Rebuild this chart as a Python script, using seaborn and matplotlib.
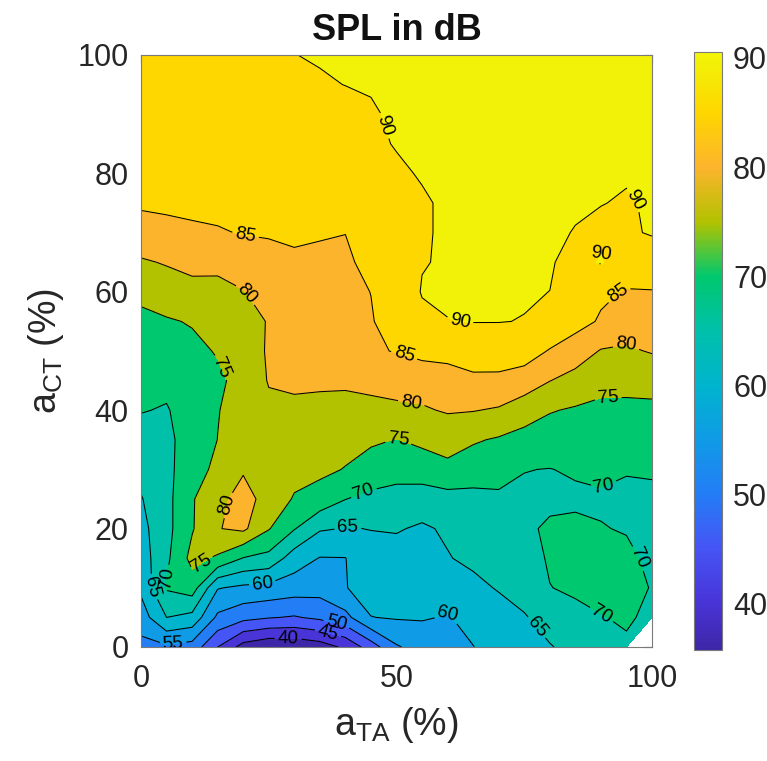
import numpy as np
import matplotlib
matplotlib.use("Agg")
import matplotlib.pyplot as plt
import seaborn as sns
from matplotlib.colors import LinearSegmentedColormap, Normalize
from matplotlib.cm import ScalarMappable

nan = np.nan
# grid axes (percent activation)
a_TA = list(range(0, 101, 5))
a_CT = list(range(0, 101, 5))

# SPL values (dB), one row per a_CT value, columns follow a_TA
spl_ct000 = [53.5, 54.2, 53.0, 45.0, 38.0, 35.8, 36.0, 37.5, 41.0, 47.5, 54.5, 57.0, 58.5, 59.9, 62.0, 63.5, 64.7, 66.5, 68.0, 69.3, nan]
spl_ct005 = [57.5, 65.0, 63.5, 54.0, 51.5, 50.3, 49.6, 51.0, 53.5, 59.9, 60.4, 60.4, 59.7, 61.5, 63.3, 64.6, 67.0, 68.8, 69.8, 70.6, 69.0]
spl_ct010 = [61.0, 70.5, 72.5, 60.3, 59.0, 58.5, 57.5, 57.0, 59.8, 62.0, 62.5, 62.5, 62.5, 64.0, 65.3, 67.0, 69.9, 70.7, 71.5, 71.3, 69.8]
spl_ct015 = [62.5, 69.0, 76.5, 74.3, 69.8, 68.5, 62.5, 59.8, 59.9, 63.5, 63.5, 64.0, 64.8, 65.8, 66.5, 68.0, 70.5, 72.0, 72.0, 71.0, 69.0]
spl_ct020 = [63.5, 68.5, 74.6, 79.8, 81.0, 75.3, 70.3, 65.5, 64.8, 65.1, 65.3, 64.5, 65.5, 67.5, 68.0, 69.4, 70.5, 71.0, 70.2, 69.7, 68.5]
spl_ct025 = [64.7, 68.5, 74.6, 78.5, 82.0, 78.0, 74.6, 73.1, 70.1, 68.5, 68.2, 67.0, 68.0, 68.5, 69.2, 69.3, 69.3, 69.2, 69.4, 69.0, 68.5]
spl_ct030 = [66.5, 69.0, 72.3, 76.5, 79.5, 77.5, 76.5, 76.0, 74.8, 73.5, 71.8, 73.0, 74.2, 72.5, 71.7, 70.1, 69.9, 70.5, 71.0, 70.3, 70.8]
spl_ct035 = [68.3, 69.0, 72.0, 75.05, 77.5, 77.5, 77.0, 77.0, 76.5, 75.5, 74.9, 75.8, 76.3, 75.5, 74.5, 73.5, 72.7, 72.3, 72.5, 72.5, 72.0]
spl_ct040 = [70.2, 69.7, 72.0, 74.8, 77.0, 79.0, 78.5, 78.0, 78.0, 78.5, 79.0, 79.4, 80.5, 80.2, 79.5, 77.0, 75.3, 74.5, 74.3, 74.4, 74.4]
spl_ct045 = [71.6, 71.0, 73.2, 74.2, 76.5, 80.3, 81.3, 81.2, 81.0, 81.5, 82.0, 82.5, 83.0, 84.0, 84.0, 83.0, 80.1, 78.3, 76.0, 75.8, 76.0]
spl_ct050 = [72.8, 73.8, 74.0, 75.3, 77.5, 80.5, 82.5, 83.5, 84.0, 84.5, 85.2, 86.2, 86.5, 87.5, 87.4, 87.0, 84.7, 82.5, 79.7, 79.2, 80.4]
spl_ct055 = [74.0, 74.6, 75.3, 77.0, 78.7, 80.2, 83.0, 84.3, 84.7, 84.7, 87.0, 89.2, 89.95, 90.1, 90.1, 89.9, 88.5, 86.7, 84.5, 83.0, 82.5]
spl_ct060 = [76.0, 77.3, 78.0, 78.5, 79.8, 82.0, 84.0, 84.3, 84.0, 85.05, 87.5, 90.2, 90.3, 90.4, 90.4, 90.3, 89.98, 88.0, 85.8, 84.7, 84.8]
spl_ct065 = [79.4, 80.4, 81.8, 81.3, 82.5, 83.5, 84.5, 84.5, 84.3, 86.2, 88.0, 89.85, 90.3, 90.4, 90.45, 90.4, 90.4, 88.5, 90.3, 87.5, 87.8]
spl_ct070 = [83.5, 83.8, 84.3, 84.7, 85.2, 85.4, 85.5, 85.2, 85.05, 87.5, 88.5, 89.7, 90.4, 90.45, 90.5, 90.45, 90.4, 89.9, 89.2, 89.5, 90.3]
spl_ct075 = [85.5, 85.8, 86.0, 86.0, 86.3, 86.5, 86.5, 86.6, 87.0, 88.0, 89.0, 89.7, 90.4, 90.5, 90.5, 90.5, 90.45, 90.3, 90.1, 89.7, 90.4]
spl_ct080 = [86.5, 86.7, 87.0, 87.0, 87.2, 87.5, 87.6, 87.8, 88.3, 89.0, 89.6, 90.2, 90.45, 90.5, 90.5, 90.5, 90.5, 90.45, 90.4, 90.3, 90.4]
spl_ct085 = [87.2, 87.4, 87.6, 87.7, 87.9, 88.1, 88.3, 88.5, 88.8, 89.5, 90.15, 90.3, 90.45, 90.5, 90.5, 90.5, 90.5, 90.5, 90.45, 90.4, 90.45]
spl_ct090 = [87.8, 88.0, 88.2, 88.4, 88.6, 88.8, 89.0, 89.2, 89.5, 89.8, 90.3, 90.4, 90.5, 90.5, 90.5, 90.5, 90.5, 90.5, 90.5, 90.45, 90.45]
spl_ct095 = [88.3, 88.5, 88.7, 88.9, 89.1, 89.3, 89.6, 89.85, 90.02, 90.15, 90.3, 90.4, 90.5, 90.5, 90.5, 90.5, 90.5, 90.5, 90.5, 90.5, 90.5]
spl_ct100 = [88.7, 88.9, 89.1, 89.3, 89.5, 89.7, 89.98, 90.12, 90.2, 90.3, 90.35, 90.4, 90.45, 90.5, 90.5, 90.5, 90.5, 90.5, 90.5, 90.5, 90.5]

spl_rows = [spl_ct000, spl_ct005, spl_ct010, spl_ct015, spl_ct020, spl_ct025, spl_ct030,
            spl_ct035, spl_ct040, spl_ct045, spl_ct050, spl_ct055, spl_ct060, spl_ct065,
            spl_ct070, spl_ct075, spl_ct080, spl_ct085, spl_ct090, spl_ct095, spl_ct100]

# contour levels and band colours (colour of the lower level of each band)
levels = [35, 40, 45, 50, 55, 60, 65, 70, 75, 80, 85, 90]
band_colors = ['#3E26A8', '#4834D7', '#4655F5', '#237DF5', '#0F9BE6', '#00B4CD',
               '#00C0AA', '#00C86E', '#B2C200', '#FCB42D', '#FED600', '#F2F208']
cmin, cmax = 35.7, 90.55
xticks = [0, 50, 100]
yticks = [0, 20, 40, 60, 80, 100]
cticks = [40, 50, 60, 70, 80, 90]

label_pos = {
    90: [(49.3, 88.5), (62.4, 55.0), (95.3, 74.7), (89.8, 67.0)],
    85: [(20.4, 69.3), (51.5, 49.3), (93.7, 59.5)],
    80: [(20.9, 59.8), (53.0, 41.7), (95.3, 52.7), (18.8, 23.6)],
    75: [(15.9, 47.3), (50.7, 36.1), (91.4, 42.6), (11.7, 14.2)],
    70: [(43.2, 27.0), (90.0, 28.2), (97.5, 15.0), (90.4, 5.9), (4.7, 11.7)],
    65: [(2.3, 10.1), (40.5, 20.6), (77.3, 3.2)],
    60: [(23.7, 11.5), (59.9, 6.3)],
    55: [(6.1, 1.5)],
    50: [(38.2, 3.7)],
    45: [(36.4, 1.7)],
    40: [(28.8, 0.8)],
}

sns.set_style("white")
plt.rcParams['font.family'] = ['Liberation Sans', 'DejaVu Sans']
plt.rcParams['mathtext.default'] = 'regular'

Z = np.ma.masked_invalid(np.array(spl_rows, dtype=float))
X, Y = np.meshgrid(a_TA, a_CT)

fig = plt.figure(figsize=(7.67, 7.61), dpi=100)
ax = fig.add_axes([141 / 767, 114 / 761, 511 / 767, 592 / 761])

band_levels = levels + [91]
ax.contourf(X, Y, Z, levels=band_levels, colors=band_colors, corner_mask=True)
for lev in levels[1:]:
    cs = ax.contour(X, Y, Z, levels=[lev], colors='k', linewidths=0.75, corner_mask=True)
    pts = label_pos.get(lev, [])
    if pts:
        try:
            ax.clabel(cs, manual=pts, inline=True, fontsize=13.5,
                      fmt='%d', inline_spacing=3)
        except Exception:
            pass

ax.set_xlim(0, 100)
ax.set_ylim(0, 100)
ax.set_xticks(xticks)
ax.set_yticks(yticks)
ax.tick_params(direction='in', top=True, right=True, length=6, width=0.8,
               labelsize=22, colors='#262626', pad=9)
ax.tick_params(axis='x', pad=12)
for s in ax.spines.values():
    s.set_color('#7a7a7a')
    s.set_linewidth(0.8)
ax.set_xlabel(r'a$_{TA}$ (%)', fontsize=27, color='#262626', labelpad=8)
ax.set_ylabel(r'a$_{CT}$ (%)', fontsize=27, color='#262626', labelpad=8)
ax.set_title('SPL in dB', fontsize=26, fontweight='bold', color='#111111', pad=11)

# colorbar
pos = [0.0] + [(l - cmin) / (cmax - cmin) for l in levels[1:]] + [1.0]
cols = band_colors + ['#F5F50A']
cmap = LinearSegmentedColormap.from_list('spl', list(zip(pos, cols)))
cax = fig.add_axes([694 / 767, 111 / 761, 28 / 767, 598 / 761])
cb = fig.colorbar(ScalarMappable(norm=Normalize(cmin, cmax), cmap=cmap), cax=cax, ticks=cticks)
cb.ax.tick_params(labelsize=22, direction='in', length=4, width=0.8, colors='#262626', pad=8)
cb.outline.set_edgecolor('#7a7a7a')
cb.outline.set_linewidth(0.8)

fig.savefig('out.png', dpi=100, facecolor='white')
